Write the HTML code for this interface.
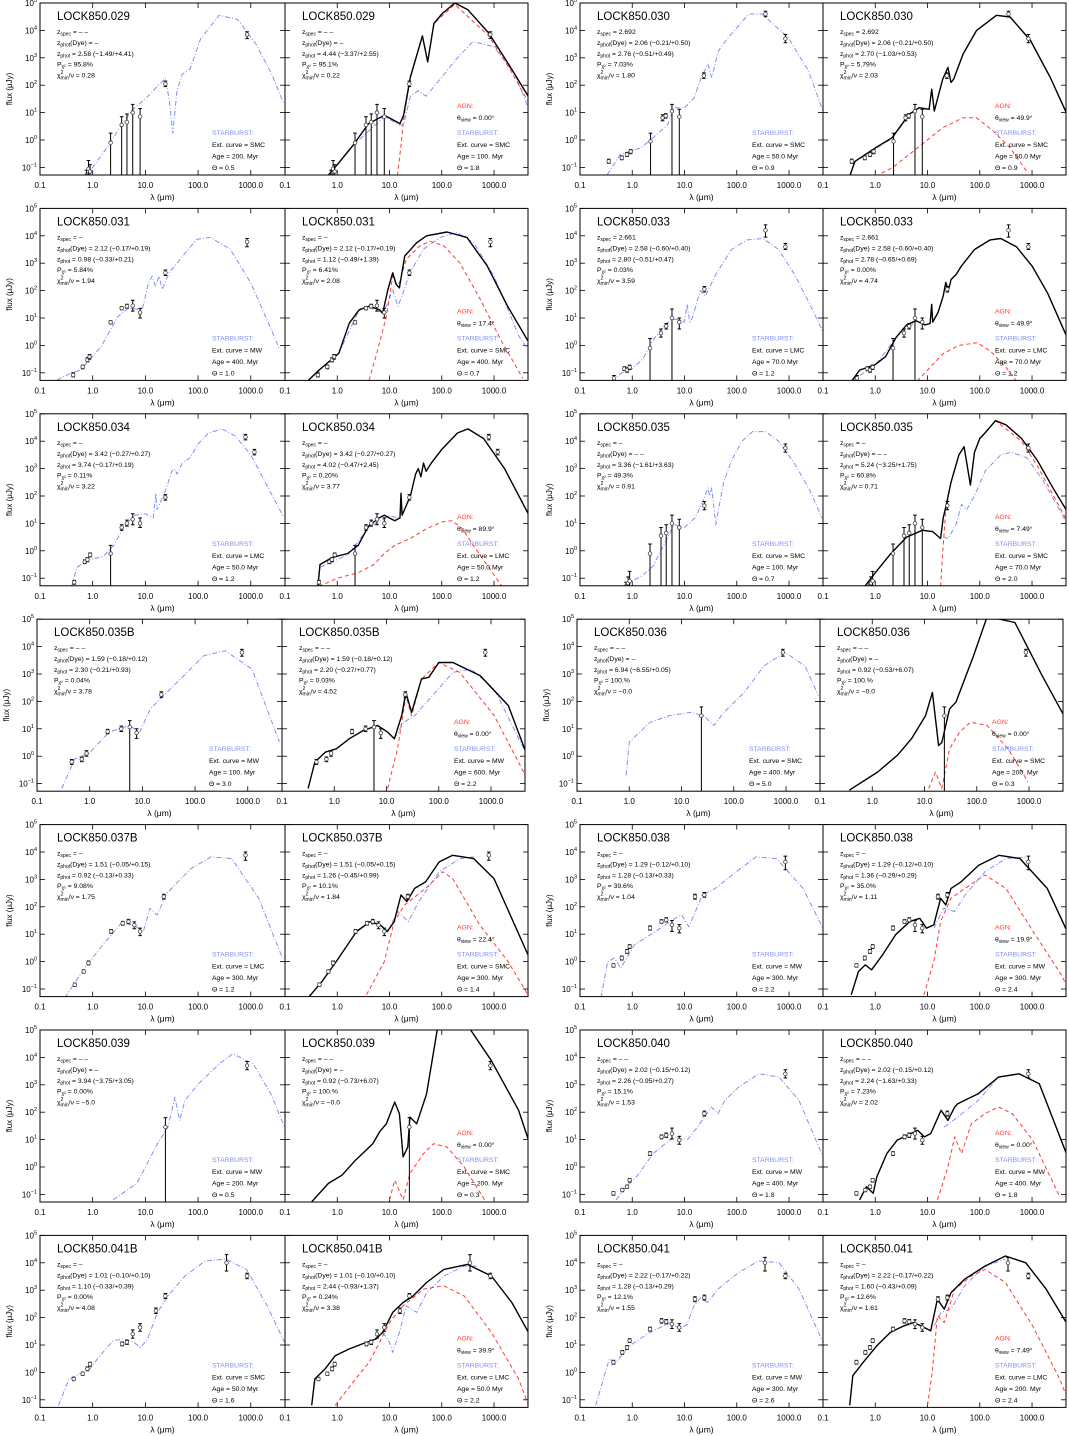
<!DOCTYPE html>
<html><head><meta charset="utf-8"><title>SED fits LOCK850</title>
<style>
html,body{margin:0;padding:0;background:#fff}
svg{display:block;font-family:"Liberation Sans","DejaVu Sans",sans-serif}
</style></head>
<body>
<svg id="chart" xmlns="http://www.w3.org/2000/svg" width="1069" height="1436" viewBox="0 0 1069 1436"></svg>
<script>
// ---- photometry: [logLambda, logFlux, logLow, logHigh] ----
const ph029=[[-0.12,-1.3,-3,-1.1],[-0.08,-1.05,-3,-0.75],[-0.05,-1.15,-3,-0.9],[0.34,-0.1,-3,0.25],[0.55,0.55,-3,0.85],[0.65,0.65,-3,0.95],[0.76,1.0,-3,1.3],[0.9,0.85,-3,1.15],[1.38,2.05,1.95,2.15],[2.93,3.85,3.7,3.95]];
const ph030=[[-0.45,-0.78,-0.85,-0.7],[-0.2,-0.65,-0.72,-0.58],[-0.1,-0.53,-0.6,-0.46],[-0.03,-0.42,-0.5,-0.35],[0.35,-0.05,-3,0.25],[0.58,0.81,0.7,0.92],[0.64,0.88,0.8,0.96],[0.76,1.05,-3,1.3],[0.9,0.85,-3,1.12],[1.37,2.35,2.25,2.45],[2.55,4.6,4.5,4.7],[2.93,3.7,3.55,3.85]];
const ph031=[[-0.37,-1.08,-1.15,-1.0],[-0.19,-0.78,-0.85,-0.72],[-0.1,-0.53,-0.6,-0.45],[-0.06,-0.41,-0.5,-0.33],[0.34,0.84,0.78,0.9],[0.55,1.36,1.3,1.42],[0.65,1.43,1.36,1.5],[0.76,1.45,1.25,1.65],[0.9,1.2,1.0,1.35],[1.38,2.65,2.55,2.75],[2.93,3.78,3.6,3.9]];
const ph033=[[-0.35,-1.2,-1.3,-1.1],[-0.15,-0.85,-0.92,-0.78],[-0.1,-0.9,-0.98,-0.82],[-0.05,-0.8,-0.88,-0.72],[0.34,-0.1,-3,0.25],[0.55,0.45,0.3,0.6],[0.65,0.7,0.6,0.8],[0.76,1.0,-3,1.33],[0.9,0.85,0.6,1.0],[1.38,2.05,1.95,2.15],[2.55,4.2,3.95,4.4],[2.93,3.6,3.5,3.72]];
const ph034=[[-0.35,-1.15,-1.22,-1.08],[-0.15,-0.4,-0.47,-0.33],[-0.1,-0.32,-0.4,-0.25],[-0.05,-0.15,-0.22,-0.08],[0.34,-0.1,-3,0.2],[0.55,0.85,0.75,0.95],[0.65,1.0,0.9,1.12],[0.76,1.15,0.95,1.35],[0.9,1.0,0.85,1.2],[1.38,1.95,1.85,2.05],[2.9,4.15,4.05,4.25],[3.07,3.6,3.5,3.7]];
const ph035=[[-0.12,-1.3,-3,-1.15],[-0.08,-1.18,-3,-0.95],[-0.05,-1.1,-3,-0.75],[0.34,-0.1,-3,0.25],[0.55,0.55,-3,0.85],[0.65,0.65,-3,0.95],[0.76,1.0,-3,1.3],[0.9,0.85,-3,1.15],[1.38,1.65,1.5,1.8],[2.93,3.75,3.6,3.9]];
const ph035B=[[-0.34,-0.21,-0.3,-0.12],[-0.15,-0.11,-0.2,-0.03],[-0.06,0.1,0.0,0.2],[0.34,0.9,0.82,0.98],[0.6,1.0,0.9,1.1],[0.76,1.06,-3,1.3],[0.89,0.85,0.65,1.0],[1.36,2.25,2.15,2.35],[2.89,3.79,3.65,3.9]];
const ph036=[[1.38,1.48,-3,1.8],[2.94,3.79,3.65,3.9]];
const ph037B=[[-0.34,-0.84,-0.9,-0.78],[-0.17,-0.36,-0.42,-0.3],[-0.08,-0.05,-0.12,0.02],[0.35,1.1,1.03,1.17],[0.57,1.4,1.33,1.47],[0.68,1.46,1.38,1.54],[0.79,1.33,1.2,1.45],[0.9,1.1,0.95,1.22],[1.35,2.37,2.28,2.46],[2.9,3.88,3.7,4.0]];
const ph038=[[-0.36,-0.14,-0.2,-0.08],[-0.2,0.13,0.06,0.2],[-0.1,0.37,0.3,0.44],[-0.05,0.55,0.48,0.62],[0.34,1.22,1.15,1.3],[0.56,1.46,1.4,1.53],[0.65,1.52,1.45,1.6],[0.76,1.34,1.1,1.5],[0.9,1.22,1.05,1.35],[1.2,2.37,2.28,2.46],[1.38,2.43,2.35,2.52],[2.93,3.64,3.35,3.85]];
const ph039=[[1.38,1.46,-3,1.8],[2.93,3.7,3.55,3.85]];
const ph040=[[-0.36,-0.96,-1.03,-0.9],[-0.19,-0.84,-0.9,-0.78],[-0.1,-0.72,-0.78,-0.66],[-0.05,-0.48,-0.55,-0.42],[0.34,0.49,0.42,0.56],[0.56,1.1,1.03,1.17],[0.65,1.16,1.08,1.24],[0.76,1.22,1.02,1.42],[0.9,0.98,0.83,1.12],[1.38,1.95,1.86,2.04],[2.93,3.4,3.25,3.55]];
const ph041B=[[-0.36,-0.24,-0.3,-0.18],[-0.19,-0.05,-0.11,0.01],[-0.1,0.13,0.06,0.2],[-0.05,0.3,0.23,0.37],[0.56,1.04,0.97,1.11],[0.65,1.1,1.02,1.18],[0.76,1.4,1.25,1.55],[0.9,1.64,1.5,1.78],[1.2,2.25,2.15,2.35],[1.38,2.79,2.7,2.88],[2.54,4.0,3.7,4.3],[2.93,3.52,3.42,3.62]];
const ph041=[[-0.36,0.37,0.3,0.44],[-0.19,0.73,0.66,0.8],[-0.1,0.91,0.84,0.98],[-0.05,1.16,1.09,1.23],[0.34,1.58,1.51,1.65],[0.56,1.88,1.8,1.96],[0.65,1.85,1.77,1.93],[0.76,1.76,1.6,1.92],[0.9,1.64,1.5,1.78],[1.2,2.67,2.58,2.76],[1.38,2.73,2.64,2.82],[2.54,4.0,3.7,4.2],[2.93,3.52,3.42,3.62]];

// ---- model curves: [logLambda, logFlux] ----
const sb029L=[[-0.15,-1.3],[0,-1.0],[0.3,-0.2],[0.5,0.4],[0.75,1.1],[1.0,1.5],[1.2,1.9],[1.38,2.25],[1.45,1.5],[1.52,0.25],[1.6,1.8],[1.7,2.4],[1.85,2.6],[2.05,3.7],[2.4,4.55],[2.75,4.4],[3.1,3.5],[3.4,2.4],[3.62,1.35]];
const tot029R=[[-0.2,-1.35],[0,-0.9],[0.3,-0.2],[0.6,0.6],[0.9,0.9],[1.05,0.75],[1.2,0.6],[1.27,0.9],[1.4,2.3],[1.63,3.8],[1.73,2.85],[1.85,4.25],[2.0,4.6],[2.25,5.0],[2.5,4.75],[2.9,3.9],[3.3,2.7],[3.67,1.55]];
const agn029R=[[1.15,-1.3],[1.22,-0.2],[1.27,0.75],[1.4,2.3],[1.63,3.8],[1.73,2.85],[1.85,4.25],[2.25,4.95],[2.9,3.8],[3.3,2.6],[3.67,1.35]];
const sb029R=[[-0.2,-1.35],[0.3,-0.2],[0.9,0.85],[1.2,0.55],[1.27,0.55],[1.4,1.6],[1.55,1.8],[1.7,1.6],[2.0,2.3],[2.3,3.0],[2.6,3.6],[3.0,3.4],[3.4,2.4],[3.67,1.1]];

const sb030L=[[-0.48,-1.27],[-0.23,-0.53],[0.16,-0.29],[0.35,0.0],[0.68,0.57],[0.8,1.18],[1.0,1.18],[1.19,1.55],[1.25,1.9],[1.32,2.28],[1.45,2.77],[1.52,2.28],[1.65,3.26],[1.84,3.75],[2.23,4.6],[2.48,4.6],[2.98,3.75],[3.37,2.53],[3.65,1.06]];
const tot030R=[[-0.48,-1.27],[-0.39,-0.78],[0,-0.29],[0.32,0.08],[0.65,0.94],[0.84,1.18],[1.03,1.12],[1.08,1.85],[1.13,1.06],[1.29,2.22],[1.39,2.65],[1.45,2.1],[1.5,2.22],[1.68,3.14],[1.94,4.0],[2.32,4.55],[2.58,4.49],[2.97,3.63],[3.35,2.28],[3.67,0.94]];
const agn030R=[[0,-1.33],[0.32,-1.02],[0.65,-0.53],[0.97,-0.04],[1.29,0.45],[1.68,0.81],[1.94,0.81],[2.26,0.32],[2.58,-0.29],[2.9,-1.15]];
const sb030R=[[-0.48,-1.27],[-0.39,-0.8],[0,-0.32],[0.32,0.05],[0.65,0.9],[0.84,1.15]];

const sb031L=[[-0.68,-1.27],[-0.42,-1.02],[-0.23,-0.9],[0.16,-0.04],[0.48,1.06],[0.68,1.36],[0.94,1.3],[1.0,1.8],[1.06,2.28],[1.13,2.53],[1.19,2.16],[1.26,2.53],[1.32,2.04],[1.45,2.65],[1.71,3.26],[1.97,3.87],[2.23,3.94],[2.61,3.51],[3.0,2.28],[3.39,0.57],[3.55,-0.16]];
const tot031R=[[-0.55,-1.27],[-0.35,-0.9],[0.03,-0.29],[0.23,0.81],[0.42,1.3],[0.61,1.43],[0.81,1.3],[0.87,1.18],[0.97,2.04],[1.06,2.65],[1.13,2.22],[1.19,2.1],[1.29,3.26],[1.52,3.75],[1.71,4.0],[2.1,4.14],[2.48,3.94],[2.87,2.9],[3.26,1.43],[3.67,0.1]];
const agn031R=[[0.61,-1.27],[0.74,-0.41],[0.94,1.06],[1.06,2.53],[1.13,2.2],[1.19,2.28],[1.32,3.14],[1.58,3.63],[1.77,3.8],[2.03,3.65],[2.35,3.0],[2.74,1.67],[3.13,0.2],[3.55,-1.2]];
const sb031R=[[-0.55,-1.27],[0.03,-0.29],[0.42,1.3],[0.61,1.43],[0.87,1.18],[0.97,1.55],[1.06,2.04],[1.16,1.43],[1.26,1.92],[1.39,2.65],[1.65,3.51],[1.97,3.94],[2.29,4.12],[2.61,3.75],[3.0,2.53],[3.48,0.32],[3.67,-0.2]];

const sb033L=[[-0.4,-1.3],[-0.2,-1.0],[0,-0.85],[0.2,-0.5],[0.4,0.2],[0.6,0.7],[0.75,0.95],[0.9,0.95],[1.0,0.85],[1.05,1.5],[1.1,0.85],[1.15,1.0],[1.3,2.0],[1.4,1.8],[1.5,2.2],[1.6,2.6],[1.9,3.5],[2.2,3.85],[2.5,3.9],[2.8,3.5],[3.1,2.6],[3.4,1.5],[3.65,0.5]];
const tot033R=[[-0.45,-1.3],[-0.3,-0.9],[0,-0.7],[0.2,-0.4],[0.4,0.3],[0.6,0.75],[0.78,0.9],[0.95,0.75],[1.05,0.8],[1.08,1.5],[1.1,0.85],[1.2,1.2],[1.3,1.8],[1.35,2.3],[1.4,2.0],[1.45,2.4],[1.55,2.6],[1.65,2.9],[1.9,3.5],[2.2,3.85],[2.4,3.9],[2.7,3.6],[3.0,2.9],[3.3,1.9],[3.67,0.3]];
const agn033R=[[0.8,-1.3],[1.0,-0.9],[1.3,-0.3],[1.6,0.0],[1.95,0.1],[2.2,-0.2],[2.5,-0.8],[2.7,-1.3]];
const sb033R=[[-0.45,-1.3],[0,-0.72],[0.4,0.28],[0.78,0.88]];

const sb034L=[[-0.4,-1.3],[-0.3,-0.6],[-0.1,-0.35],[0.2,-0.2],[0.4,0.2],[0.6,0.9],[0.8,1.3],[1.0,1.35],[1.15,1.2],[1.2,2.1],[1.22,1.5],[1.4,2.3],[1.5,2.9],[1.55,3.0],[1.6,2.8],[1.7,3.2],[1.85,3.4],[2.0,3.9],[2.2,4.3],[2.45,4.45],[2.7,4.2],[3.0,3.5],[3.3,2.4],[3.62,1.25]];
const tot034R=[[-0.37,-1.3],[-0.33,-0.5],[-0.1,-0.25],[0.2,-0.1],[0.4,0.2],[0.6,0.9],[0.8,1.2],[0.9,1.3],[1.1,1.1],[1.2,1.2],[1.22,2.1],[1.24,1.3],[1.4,2.0],[1.5,2.8],[1.55,3.0],[1.6,2.7],[1.65,3.2],[1.7,2.9],[1.8,3.2],[2.0,3.7],[2.3,4.3],[2.5,4.45],[2.8,4.1],[3.2,3.0],[3.67,1.3]];
const agn034R=[[-0.35,-1.3],[0,-1.0],[0.4,-0.8],[0.7,-0.5],[0.9,-0.1],[1.1,0.2],[1.4,0.45],[1.7,0.8],[2.0,1.05],[2.2,1.1],[2.4,0.8],[2.6,0.2],[2.9,-0.6],[3.15,-1.3]];
const sb034R=[[-0.37,-1.3],[-0.33,-0.6],[0.2,-0.15],[0.6,0.85],[1.0,1.28],[1.2,1.18]];

const sb035L=[[-0.1,-1.3],[0,-1.1],[0.2,-0.9],[0.4,-0.55],[0.6,0.2],[0.8,0.95],[1.0,0.85],[1.2,1.2],[1.35,1.8],[1.45,2.3],[1.48,2.0],[1.52,2.3],[1.6,0.95],[1.65,1.5],[1.75,2.5],[1.9,3.3],[2.1,4.0],[2.3,4.35],[2.55,4.35],[2.8,4.0],[3.1,3.2],[3.4,2.2],[3.63,1.2]];
const tot035R=[[-0.2,-1.3],[0,-0.8],[0.3,-0.1],[0.6,0.5],[0.9,0.75],[1.1,0.7],[1.25,0.45],[1.3,1.2],[1.35,1.6],[1.45,2.5],[1.6,3.5],[1.7,3.8],[1.82,2.4],[1.9,3.6],[2.0,4.1],[2.1,4.3],[2.3,4.75],[2.5,4.6],[2.8,4.1],[3.1,3.3],[3.4,2.3],[3.67,1.45]];
const agn035R=[[1.25,-1.3],[1.3,0.2],[1.35,1.5],[1.45,2.5],[1.6,3.5],[1.7,3.8],[1.82,2.4],[1.9,3.6],[2.0,4.1],[2.3,4.75],[2.8,4.0],[3.1,3.1],[3.67,1.1]];
const sb035R=[[1.3,0.5],[1.4,0.45],[1.55,1.0],[1.65,1.7],[1.75,1.5],[1.9,2.0],[2.1,2.9],[2.4,3.5],[2.6,3.6],[2.9,3.4],[3.2,2.6],[3.67,1.0]];

const sb035BL=[[-0.53,-1.18],[-0.28,-0.09],[-0.02,0.09],[0.37,0.88],[0.75,1.12],[0.95,0.88],[1.15,1.73],[1.34,2.09],[1.66,2.7],[2.17,3.67],[2.57,3.85],[3.08,3.18],[3.6,0.52]];
const tot035BR=[[-0.5,-1.18],[-0.37,-0.21],[-0.17,0.15],[0.04,0.27],[0.29,0.64],[0.56,0.94],[0.83,1.12],[1.02,0.88],[1.15,0.64],[1.29,1.48],[1.37,2.33],[1.48,1.6],[1.67,2.82],[1.81,2.88],[2.0,3.42],[2.27,3.42],[2.79,2.94],[3.33,1.85],[3.69,0.03]];
const agn035BR=[[1.02,-1.18],[1.21,0.27],[1.37,2.2],[1.48,1.48],[1.67,2.82],[2.0,3.42],[2.4,3.06],[3.06,1.48],[3.69,-0.82]];
const sb035BR=[[1.15,0.64],[1.33,1.24],[1.54,1.48],[1.88,2.21],[2.27,3.06],[2.62,3.18],[3.06,2.45],[3.69,0.03]];

const sb036L=[[-0.06,-0.7],[0.0,0.52],[0.4,1.24],[0.77,1.48],[1.17,1.6],[1.42,1.48],[1.62,1.12],[1.81,1.6],[2.2,2.33],[2.58,3.3],[2.98,3.79],[3.36,3.3],[3.62,2.21]];
const tot036R=[[-0.44,-1.24],[0.1,-0.58],[0.48,0.03],[0.75,0.64],[1.02,1.48],[1.15,2.33],[1.27,0.39],[1.33,0.5],[1.48,1.73],[1.6,1.97],[1.94,3.67],[2.2,5.1],[2.73,4.88],[3.25,2.94],[3.77,1.12]];
const agn036R=[[1.08,-1.18],[1.21,-0.58],[1.33,-1.18],[1.48,0.27],[1.67,0.88],[1.88,1.24],[2.2,1.12],[2.6,0.27],[2.98,-0.94]];
const sb036R=[];

const sb037BL=[[-0.53,-1.33],[-0.2,-0.36],[0.19,0.61],[0.57,1.46],[0.83,1.27],[0.96,1.1],[1.09,1.95],[1.22,1.7],[1.41,2.5],[1.87,3.4],[2.25,3.82],[2.64,3.76],[3.15,2.31],[3.6,0.13]];
const tot037BR=[[-0.56,-1.33],[-0.29,-0.72],[-0.02,0.0],[0.37,1.1],[0.63,1.46],[0.83,1.33],[0.96,1.1],[1.09,1.46],[1.22,2.43],[1.33,2.19],[1.48,2.67],[1.69,2.91],[1.95,3.64],[2.21,3.88],[2.61,3.76],[3.0,3.03],[3.65,0.25]];
const agn037BR=[[0.56,-1.21],[0.9,0.0],[1.09,1.46],[1.29,2.07],[1.69,2.67],[2.02,3.28],[2.21,3.03],[2.73,1.33],[3.27,0.0],[3.65,-1.21]];
const sb037BR=[[0.96,1.1],[1.16,1.83],[1.36,1.46],[1.56,2.19],[1.95,3.28],[2.35,3.76],[2.61,3.82]];

const sb038L=[[-0.6,-1.33],[-0.47,0.0],[-0.34,0.13],[-0.22,-0.24],[0.04,0.61],[0.44,1.1],[0.82,1.58],[0.95,1.7],[1.08,1.27],[1.21,1.83],[1.34,2.43],[1.59,2.67],[1.99,3.28],[2.37,3.82],[2.76,3.76],[3.27,2.67],[3.65,1.2]];
const tot038R=[[-0.46,-1.21],[-0.32,-0.36],[-0.19,-0.12],[-0.07,-0.3],[0.14,0.25],[0.39,0.98],[0.66,1.46],[0.85,1.58],[0.98,1.22],[1.12,1.34],[1.25,2.31],[1.35,2.07],[1.45,2.67],[1.64,2.91],[1.98,3.52],[2.37,3.88],[2.77,3.76],[3.29,2.67],[3.71,0.95]];
const agn038R=[[0.93,-1.21],[1.12,0.0],[1.25,1.46],[1.45,2.31],[1.72,2.67],[2.1,3.16],[2.5,2.67],[3.02,1.1],[3.56,-0.48],[3.75,-1.21]];
const sb038R=[[1.12,1.22],[1.31,1.95],[1.52,1.83],[1.72,2.43],[2.1,3.28],[2.5,3.76],[2.91,3.82]];

const sb039L=[[0.39,-1.2],[0.84,-0.6],[1.23,0.85],[1.43,1.46],[1.56,2.55],[1.65,1.7],[1.75,2.43],[2.01,3.04],[2.4,3.76],[2.66,4.13],[3.05,3.76],[3.38,2.67],[3.64,1.46]];
const tot039R=[[-0.49,-1.27],[-0.17,-0.6],[0.09,-0.3],[0.35,0.25],[0.68,0.85],[0.81,1.28],[0.94,1.58],[1.1,2.37],[1.19,1.95],[1.26,0.37],[1.35,0.73],[1.39,1.82],[1.52,1.58],[1.71,2.67],[1.91,4.98],[2.1,5.6],[2.4,5.6],[2.56,4.98],[2.95,3.88],[3.47,2.07],[3.66,0.98]];
const agn039R=[[1.0,-1.2],[1.1,-0.48],[1.26,-1.2],[1.39,-0.24],[1.65,0.49],[1.84,0.85],[2.1,0.73],[2.43,0.0],[2.82,-1.2]];
const sb039R=[];

const sb040L=[[-0.31,-1.2],[-0.12,-0.72],[0.08,-0.36],[0.4,0.49],[0.79,1.1],[1.05,0.98],[1.25,1.46],[1.38,1.82],[1.51,2.19],[1.64,1.95],[1.77,2.43],[2.03,2.91],[2.42,3.4],[2.81,3.28],[3.19,2.43],[3.65,0.37]];
const tot040R=[[-0.3,-1.2],[-0.17,-0.72],[-0.04,-0.96],[0.03,-0.36],[0.22,0.49],[0.42,0.98],[0.68,1.22],[0.81,1.34],[0.94,1.1],[1.06,1.22],[1.26,2.07],[1.39,1.7],[1.52,2.19],[1.58,2.31],[1.71,2.43],[1.97,2.67],[2.36,3.28],[2.75,3.4],[3.14,3.04],[3.73,0.13]];
const agn040R=[[1.19,-1.2],[1.39,0.0],[1.52,1.1],[1.65,0.49],[1.84,1.58],[2.1,1.95],[2.36,2.19],[2.62,1.95],[3.01,0.98],[3.53,-1.08]];
const sb040R=[[1.32,1.46],[1.58,1.82],[1.97,2.43],[2.3,3.16]];

const sb041BL=[[-0.65,-1.2],[-0.45,-0.24],[-0.06,0.12],[0.19,0.73],[0.39,1.16],[0.58,1.22],[0.78,1.1],[0.91,0.91],[1.04,1.22],[1.23,2.19],[1.43,2.79],[1.75,3.52],[2.14,4.07],[2.53,4.13],[2.92,3.76],[3.31,2.43],[3.64,1.1]];
const tot041BR=[[-0.49,-1.2],[-0.43,-0.24],[-0.23,0.13],[-0.04,0.61],[0.22,0.85],[0.48,1.04],[0.74,1.22],[0.87,1.46],[1.06,2.19],[1.26,2.55],[1.45,2.79],[1.71,3.28],[2.04,3.76],[2.49,3.94],[2.95,3.52],[3.34,2.55],[3.66,1.46]];
const agn041BR=[[-0.04,-1.2],[0.35,-0.24],[0.61,0.37],[0.81,1.1],[1.0,1.82],[1.26,2.43],[1.65,3.04],[2.04,3.16],[2.43,2.79],[2.95,1.46],[3.47,-0.24],[3.66,-1.2]];
const sb041BR=[[0.87,1.46],[1.0,1.1],[1.06,0.73],[1.19,1.46],[1.32,2.43],[1.52,2.19],[1.71,2.91],[2.04,3.52],[2.43,3.88],[2.69,3.88]];

const sb041L=[[-0.7,-1.2],[-0.44,0.49],[-0.31,0.37],[-0.05,0.97],[0.34,1.46],[0.73,1.82],[0.92,1.58],[1.05,1.76],[1.18,2.43],[1.31,2.73],[1.44,2.55],[1.64,3.04],[2.03,3.64],[2.42,4.07],[2.81,4.0],[3.19,3.04],[3.65,1.1]];
const tot041R=[[-0.49,-1.2],[-0.43,-0.12],[-0.23,0.37],[0.03,0.97],[0.29,1.46],[0.55,1.7],[0.74,1.82],[0.87,1.7],[1.06,1.52],[1.19,2.67],[1.32,2.31],[1.45,2.91],[1.71,3.4],[2.1,3.88],[2.49,4.25],[2.88,4.0],[3.27,3.04],[3.73,1.58]];
const agn041R=[[1.0,-1.2],[1.09,0.0],[1.19,2.07],[1.32,1.82],[1.52,3.04],[1.84,3.52],[2.1,3.76],[2.49,3.28],[3.01,1.7],[3.53,-0.24],[3.73,-1.2]];
const sb041R=[[1.13,1.7],[1.26,2.19],[1.45,2.31],[1.71,3.16],[2.1,3.88],[2.49,4.13]];

// ---- axis ticks ----
const xTickVals=[-1,0,1,2,3];
const xTickLabels=["0.1","1.0","10.0","100.0","1000.0"];
const yTickVals=[-1,0,1,2,3,4,5];

// ---- panel annotations: [zspec, zdye, zphot, P, chi2, agnTheta, ext, age, Theta] ----
const objs=[
 {name:"LOCK850.029",row:0,col:0,ph:ph029,L:{sb:sb029L,t:["– –","–","2.58 (−1.49/+4.41)","95.8%","0.28",null,"SMC","200. Myr","0.5"]},R:{tot:tot029R,agn:agn029R,sb:sb029R,t:["– –","–","4.44 (−3.37/+2.55)","95.1%","0.22","0.00°","SMC","100. Myr","1.8"]}},
 {name:"LOCK850.030",row:0,col:1,ph:ph030,L:{sb:sb030L,t:["2.692","2.06 (−0.21/+0.50)","2.76 (−0.51/+0.49)","7.03%","1.80",null,"SMC","50.0 Myr","0.9"]},R:{tot:tot030R,agn:agn030R,sb:sb030R,t:["2.692","2.06 (−0.21/+0.50)","2.70 (−1.03/+0.53)","5.79%","2.03","49.9°","SMC","50.0 Myr","0.9"]}},
 {name:"LOCK850.031",row:1,col:0,ph:ph031,L:{sb:sb031L,t:["–","2.12 (−0.17/+0.19)","0.98 (−0.33/+0.21)","5.84%","1.94",null,"MW","400. Myr","1.0"]},R:{tot:tot031R,agn:agn031R,sb:sb031R,t:["–","2.12 (−0.17/+0.19)","1.12 (−0.49/+1.39)","6.41%","2.08","17.4°","SMC","400. Myr","0.7"]}},
 {name:"LOCK850.033",row:1,col:1,ph:ph033,L:{sb:sb033L,t:["2.661","2.58 (−0.60/+0.40)","2.80 (−0.51/+0.47)","0.03%","3.59",null,"LMC","70.0 Myr","1.2"]},R:{tot:tot033R,agn:agn033R,sb:sb033R,t:["2.661","2.58 (−0.60/+0.40)","2.78 (−0.65/+0.69)","0.00%","4.74","49.9°","LMC","70.0 Myr","1.2"]}},
 {name:"LOCK850.034",row:2,col:0,ph:ph034,L:{sb:sb034L,t:["–","3.42 (−0.27/+0.27)","3.74 (−0.17/+0.19)","0.11%","3.22",null,"LMC","50.0 Myr","1.2"]},R:{tot:tot034R,agn:agn034R,sb:sb034R,t:["–","3.42 (−0.27/+0.27)","4.02 (−0.47/+2.45)","0.20%","3.77","89.9°","LMC","50.0 Myr","1.2"]}},
 {name:"LOCK850.035",row:2,col:1,ph:ph035,L:{sb:sb035L,t:["–","– –","3.36 (−1.61/+3.63)","49.3%","0.91",null,"SMC","100. Myr","0.7"]},R:{tot:tot035R,agn:agn035R,sb:sb035R,t:["–","– –","5.24 (−3.25/+1.75)","60.8%","0.71","7.49°","SMC","70.0 Myr","2.0"]}},
 {name:"LOCK850.035B",row:3,col:0,ph:ph035B,L:{sb:sb035BL,t:["– –","1.59 (−0.18/+0.12)","2.30 (−0.21/+0.93)","0.04%","3.78",null,"MW","100. Myr","3.0"]},R:{tot:tot035BR,agn:agn035BR,sb:sb035BR,t:["– –","1.59 (−0.18/+0.12)","2.20 (−0.27/+0.77)","0.03%","4.52","0.00°","MW","600. Myr","2.2"]}},
 {name:"LOCK850.036",row:3,col:1,ph:ph036,L:{sb:sb036L,t:["– –","–","6.94 (−6.55/+0.05)","100.%","−0.0",null,"SMC","400. Myr","5.0"]},R:{tot:tot036R,agn:agn036R,sb:sb036R,t:["– –","–","0.92 (−0.53/+6.07)","100.%","−0.0","0.00°","SMC","200. Myr","0.3"]}},
 {name:"LOCK850.037B",row:4,col:0,ph:ph037B,L:{sb:sb037BL,t:["–","1.51 (−0.05/+0.15)","0.92 (−0.13/+0.33)","9.08%","1.75",null,"LMC","300. Myr","1.2"]},R:{tot:tot037BR,agn:agn037BR,sb:sb037BR,t:["–","1.51 (−0.05/+0.15)","1.26 (−0.45/+0.99)","10.1%","1.84","22.4°","SMC","300. Myr","1.4"]}},
 {name:"LOCK850.038",row:4,col:1,ph:ph038,L:{sb:sb038L,t:["–","1.29 (−0.12/+0.10)","1.28 (−0.13/+0.33)","39.6%","1.04",null,"MW","300. Myr","2.2"]},R:{tot:tot038R,agn:agn038R,sb:sb038R,t:["–","1.29 (−0.12/+0.10)","1.36 (−0.29/+0.29)","35.0%","1.11","19.9°","MW","300. Myr","2.4"]}},
 {name:"LOCK850.039",row:5,col:0,ph:ph039,L:{sb:sb039L,t:["– –","–","3.94 (−3.75/+3.05)","0.00%","−5.0",null,"MW","200. Myr","0.5"]},R:{tot:tot039R,agn:agn039R,sb:sb039R,t:["– –","–","0.92 (−0.73/+6.07)","100.%","−0.0","0.00°","SMC","200. Myr","0.3"]}},
 {name:"LOCK850.040",row:5,col:1,ph:ph040,L:{sb:sb040L,t:["– –","2.02 (−0.15/+0.12)","2.26 (−0.95/+0.27)","15.1%","1.53",null,"MW","400. Myr","1.8"]},R:{tot:tot040R,agn:agn040R,sb:sb040R,t:["– –","2.02 (−0.15/+0.12)","2.24 (−1.63/+0.33)","7.23%","2.02","0.00°","MW","400. Myr","1.8"]}},
 {name:"LOCK850.041B",row:6,col:0,ph:ph041B,L:{sb:sb041BL,t:["–","1.01 (−0.10/+0.10)","1.10 (−0.33/+0.39)","0.00%","4.08",null,"SMC","50.0 Myr","1.6"]},R:{tot:tot041BR,agn:agn041BR,sb:sb041BR,t:["–","1.01 (−0.10/+0.10)","2.44 (−0.93/+1.37)","0.24%","3.38","39.9°","LMC","50.0 Myr","2.2"]}},
 {name:"LOCK850.041",row:6,col:1,ph:ph041,L:{sb:sb041L,t:["–","2.22 (−0.17/+0.22)","1.28 (−0.13/+0.29)","12.1%","1.55",null,"MW","300. Myr","2.6"]},R:{tot:tot041R,agn:agn041R,sb:sb041R,t:["–","2.22 (−0.17/+0.22)","1.60 (−0.43/+0.09)","12.6%","1.61","7.49°","LMC","200. Myr","2.4"]}}
];

const NS="http://www.w3.org/2000/svg";
const svg=document.getElementById("chart");
const LMIN=-1, LMAX=3.65, FTOP=5, DEC=27.4, PH=172;
const BLUE="#8290f5", RED="#ff3b2f";
function el(tag,attrs,parent){const e=document.createElementNS(NS,tag);for(const k in attrs)e.setAttribute(k,attrs[k]);(parent||svg).appendChild(e);return e;}
function sub(t,txt,dy,dx){const s=el("tspan",{"font-size":"5",dy:dy},t);if(dx)s.setAttribute("dx",dx);s.textContent=txt;return s;}
function span(t,txt,dy){const s=el("tspan",{dy:dy},t);s.textContent=txt;return s;}
let clipId=0;

function drawPanel(o,side){
  const shift=(o.row===3)?-3:0;
  const xL=(o.col===0?(side==="L"?40:285):(side==="L"?580:823))+shift;
  const xR=(o.col===0?(side==="L"?285:528):(side==="L"?823:1066))+shift;
  const y0=3+o.row*205.4;
  const xs=l=>xL+(l-LMIN)/(LMAX-LMIN)*(xR-xL);
  const ys=f=>y0+(FTOP-f)*DEC;
  const yB=y0+PH;
  const g=el("g",{});
  
  
  clipId++;
  const cp=el("clipPath",{id:"c"+clipId},g);
  el("rect",{x:xL,y:y0,width:xR-xL,height:PH},cp);
  yTickVals.forEach(v=>{
    const y=ys(v);
    const t1=el("line",{x1:xL,x2:xL+5,y1:y,y2:y,stroke:"#000","stroke-width":"0.8"},g);
    
    
    const t2=el("line",{x1:xR-5,x2:xR,y1:y,y2:y,stroke:"#000","stroke-width":"0.8"},g);
    
    
    if(side==="L"){
      const tl=el("text",{x:xL-3,y:y+3,"font-size":"8","text-anchor":"end"},g);
      
      
      span(tl,"10","0");
      const s=el("tspan",{"font-size":"5.5",dy:"-4"},tl); s.textContent=(v<0?"−"+(-v):String(v));
    }
  });
  xTickVals.forEach((v,i)=>{
    const x=xs(v);
    const a=el("line",{x1:x,x2:x,y1:yB,y2:yB-5,stroke:"#000","stroke-width":"0.8"},g);
    
    
    const b=el("line",{x1:x,x2:x,y1:y0,y2:y0+5,stroke:"#000","stroke-width":"0.8"},g);
    
    
    const tl=el("text",{x:x,y:yB+13,"font-size":"8","text-anchor":"middle"},g);
    
    
    tl.textContent=xTickLabels[i];
  });
  const xt=el("text",{x:(xL+xR)/2,y:yB+25,"font-size":"8.5","text-anchor":"middle"},g);
  
  
  xt.textContent="λ (μm)";
  if(side==="L"){
    const yt=el("text",{x:0,y:0,"font-size":"8","text-anchor":"middle",transform:"translate("+(xL-28)+","+(y0+86)+") rotate(-90)"},g);
    
    
    yt.textContent="flux (μJy)";
  }
  const P=side==="L"?o.L:o.R;
  const cg=el("g",{"clip-path":"url(#c"+clipId+")"},g);
  function curve(arr,color,dash,w,name){
    if(!arr.length) return;
    const p=el("polyline",{points:arr.map(d=>xs(d[0]).toFixed(1)+","+ys(d[1]).toFixed(1)).join(" "),fill:"none",stroke:color,"stroke-width":w,"stroke-dasharray":dash,"stroke-linejoin":"round"},cg);
    
    
  }
  curve(P.sb,BLUE,"5,2,1,2","1","starburst-curve");
  if(side==="R"){
    curve(P.agn,RED,"4,3","1","agn-curve");
    curve(P.tot,"#000","","1.4","total-curve");
  }
  o.ph.forEach(d=>{
    const x=xs(d[0]), y=ys(d[1]);
    const lo=Math.min(ys(d[2]),yB), hi=ys(d[3]);
    const e=el("line",{x1:x,x2:x,y1:lo,y2:hi,stroke:"#000","stroke-width":"1"},cg);
    
    
    const cap=el("line",{x1:x-1.8,x2:x+1.8,y1:hi,y2:hi,stroke:"#000","stroke-width":"1"},cg);
    
    
    if(ys(d[2])<yB){
      const cap2=el("line",{x1:x-1.8,x2:x+1.8,y1:lo,y2:lo,stroke:"#000","stroke-width":"1"},cg);
      
      
    }
    const c=el("circle",{cx:x,cy:y,r:"1.8",fill:"#fff",stroke:"#444","stroke-width":"0.8"},cg);
    
    
  });
  const fr=el("rect",{x:xL,y:y0,width:xR-xL,height:PH,fill:"none",stroke:"#000","stroke-width":"1"},g);
  
  
  const tx=xL+17;
  const ti=el("text",{x:tx,y:y0+17,"font-size":"11.5"},g);
  
  
  ti.textContent=o.name;
  const t=P.t;
  const fs="6.8";
  let a=el("text",{x:tx,y:y0+31,"font-size":fs},g);
  
  
  span(a,"z","0"); sub(a,"spec","1.5"); span(a," = "+t[0],"-1.5");
  a=el("text",{x:tx,y:y0+42,"font-size":fs},g);
  
  
  span(a,"z","0"); sub(a,"phot","1.5"); span(a,"(Dye) = "+t[1],"-1.5");
  a=el("text",{x:tx,y:y0+53,"font-size":fs},g);
  
  
  span(a,"z","0"); sub(a,"phot","1.5"); span(a," = "+t[2],"-1.5");
  a=el("text",{x:tx,y:y0+63.5,"font-size":fs},g);
  
  
  span(a,"P","0"); sub(a,"χ²","1.5"); span(a," = "+t[3],"-1.5");
  a=el("text",{x:tx,y:y0+74.5,"font-size":fs},g);
  
  
  span(a,"χ","0"); sub(a,"2","-3.5"); sub(a,"min","5.5","-2.8"); span(a,"/ν = "+t[4],"-2");
  const bx=xL+172;
  if(side==="R"){
    a=el("text",{x:bx,y:y0+105,"font-size":fs,fill:RED},g);
    
    
    a.textContent="AGN:";
    a=el("text",{x:bx,y:y0+117,"font-size":fs},g);
    
    
    span(a,"θ","0"); sub(a,"view","1.5"); span(a," = "+t[5],"-1.5");
  }
  a=el("text",{x:bx,y:y0+132,"font-size":fs,fill:BLUE},g);
  
  
  a.textContent="STARBURST:";
  a=el("text",{x:bx,y:y0+144,"font-size":fs},g);
  
  
  a.textContent="Ext. curve = "+t[6];
  a=el("text",{x:bx,y:y0+155.5,"font-size":fs},g);
  
  
  a.textContent="Age = "+t[7];
  a=el("text",{x:bx,y:y0+167,"font-size":fs},g);
  
  
  a.textContent="Θ = "+t[8];
}
objs.forEach(o=>{drawPanel(o,"L");drawPanel(o,"R");});
</script>
</body></html>
